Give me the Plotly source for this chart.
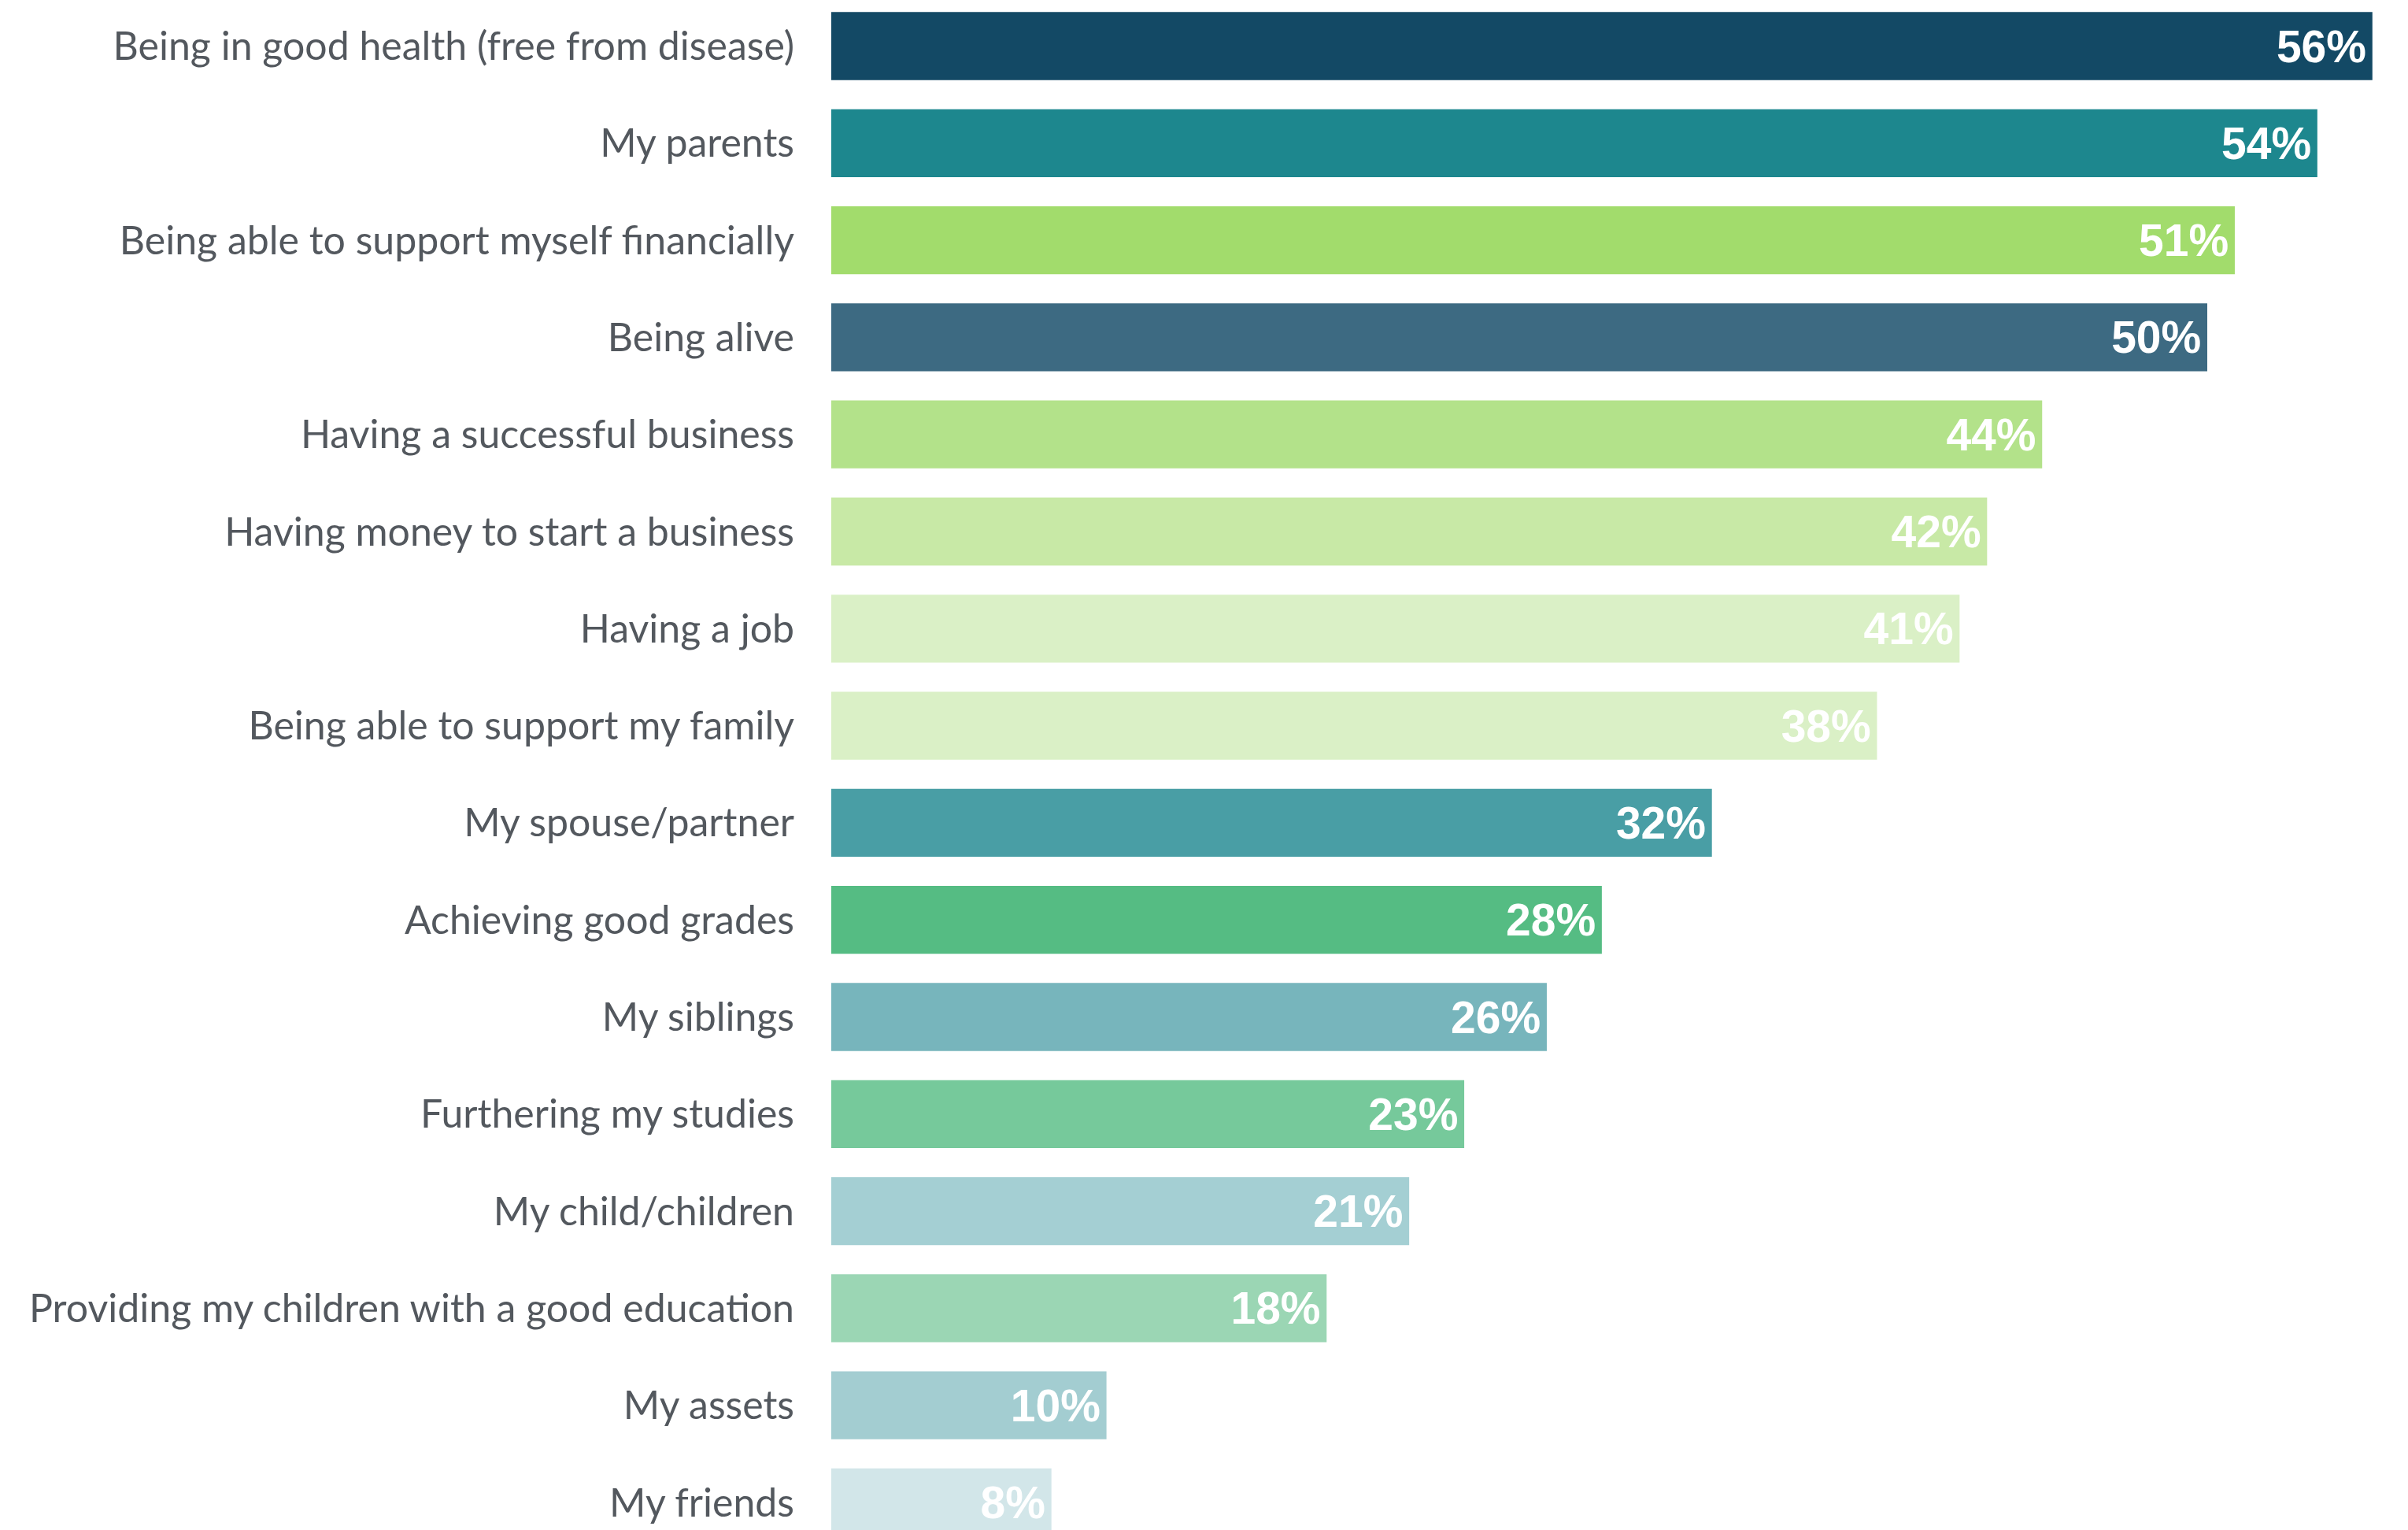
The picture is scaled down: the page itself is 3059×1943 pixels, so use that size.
import plotly.graph_objects as go

categories = [
    "Being in good health (free from disease)",
    "My parents",
    "Being able to support myself financially",
    "Being alive",
    "Having a successful business",
    "Having money to start a business",
    "Having a job",
    "Being able to support my family",
    "My spouse/partner",
    "Achieving good grades",
    "My siblings",
    "Furthering my studies",
    "My child/children",
    "Providing my children with a good education",
    "My assets",
    "My friends",
]
values = [56, 54, 51, 50, 44, 42, 41, 38, 32, 28, 26, 23, 21, 18, 10, 8]
value_labels = [f"{v}%\u200a" for v in values]
colors = [
    "#134965", "#1D878E", "#A2DC6C", "#3D6A82", "#B3E28A", "#C8E9A6",
    "#DAF0C6", "#DAF0C6", "#499EA5", "#55BC83", "#77B5BC", "#76C99B",
    "#A4CFD3", "#9BD6B4", "#A3CDD1", "#D2E6E9",
]

W, H = 3059, 1943
body_offset = 8
left = 1056 - body_offset
pitch = 123.3
first_center = 58.5 - body_offset
px_per_pct = 34.96

y_top = -first_center / pitch
y_bot = y_top + H / pitch
x_max = (W - left) / px_per_pct

fig = go.Figure(
    go.Bar(
        x=values,
        y=categories,
        orientation="h",
        marker=dict(color=colors, line=dict(width=0)),
        width=0.70,
        text=value_labels,
        textposition="inside",
        insidetextanchor="end",
        textfont=dict(family="Arial, Liberation Sans, sans-serif", size=57, color="white", weight="bold"),
        cliponaxis=True,
        hoverinfo="skip",
    )
)

fig.update_layout(
    width=W,
    height=H,
    margin=dict(l=left, r=0, t=0, b=0, pad=0),
    paper_bgcolor="white",
    plot_bgcolor="white",
    showlegend=False,
    uniformtext=dict(minsize=57, mode="show"),
    xaxis=dict(range=[0, x_max], visible=False, fixedrange=True),
    yaxis=dict(
        range=[y_bot, y_top],
        showgrid=False,
        zeroline=False,
        showline=False,
        ticks="",
        ticklabelstandoff=46,
        tickfont=dict(family="Lato, Noto Sans, sans-serif", size=50, color="#53585E"),
        automargin=False,
    ),
)

fig.write_html("out.html")
